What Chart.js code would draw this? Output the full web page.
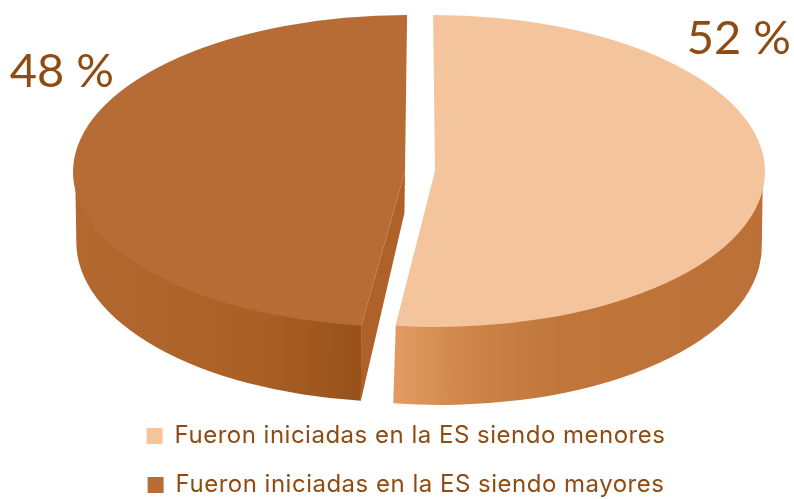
<!DOCTYPE html>
<html>
<head>
<meta charset="utf-8">
<script src="https://cdn.jsdelivr.net/npm/chart.js@4"></script>
<style>
html, body { margin: 0; padding: 0; background: #ffffff; overflow: hidden; }
#wrap { width: 794px; height: 499px; overflow: hidden; }
</style>
</head>
<body>
<div id="wrap"><canvas id="chartPie" width="794" height="507"></canvas></div>
<script>
const categories = ["Fueron iniciadas en la ES siendo menores", "Fueron iniciadas en la ES siendo mayores"];
const values = [52, 48];
const sliceColors = ["#f4c49c", "#b86c35"];

const textColor = "#8f4c12";
const pieY = 171;

// where each slice sits on the page
const sliceX = [435, 405];
const sliceRx = [330, 332];
const sliceShear = [1.9 / 156, -2.1 / 156];
const sliceDrop = [73, 70];
const sliceTilt = [-0.11, 0];

// side wall of the slices, left to right on screen
const wallStops = [
    [[395, "#e19a62"], [470, "#cc8448"], [560, "#c0763a"], [765, "#bb7038"]],
    [[75, "#b2682e"], [250, "#ab6126"], [362, "#98521a"]]
];

const pie3d = {
    id: "pie3d",
    // legend text is spaced a bit wider than the font
    beforeLayout(chart) {
        chart.ctx.letterSpacing = "0.5px";
    },
    beforeDraw(chart) {
        chart.ctx.letterSpacing = "0.5px";
    },
    beforeDatasetDraw(chart) {
        const ctx = chart.ctx;
        chart.getDatasetMeta(0).data.forEach((arc, i) => {
            const R = arc.outerRadius;
            const sx = sliceRx[i] / R;
            const drop = sliceDrop[i], faceDrop = 42, rx2 = R - 2, ry2 = R + 5;
            const tilt = sliceTilt[i];
            const from = Math.max(arc.startAngle, 0);
            const to = Math.min(arc.endAngle, Math.PI);

            ctx.save();
            ctx.translate(sliceX[i], pieY);
            ctx.transform(sx, 0, sliceShear[i], 1, 0, 0);

            const stops = wallStops[i];
            const toLocal = x => (x - sliceX[i]) / sx;
            const x0 = stops[0][0], span = stops[stops.length - 1][0] - x0;
            const grad = ctx.createLinearGradient(toLocal(x0), 0, toLocal(x0 + span), 0);
            stops.forEach(s => grad.addColorStop((s[0] - x0) / span, s[1]));

            // cut face of the left slice shows through the gap
            if (i === 1) {
                const a = arc.startAngle;
                ctx.fillStyle = "#ae6128";
                ctx.beginPath();
                ctx.moveTo(0, 0);
                ctx.lineTo(R * Math.cos(a), R * Math.sin(a));
                ctx.lineTo(rx2 * Math.cos(a), drop + ry2 * Math.sin(a));
                ctx.lineTo(0, faceDrop);
                ctx.closePath();
                ctx.fill();
            }

            // wall starts just under the top face so no seam shows
            ctx.fillStyle = grad;
            ctx.beginPath();
            ctx.arc(0, 0, R - 1, from, to);
            ctx.ellipse(0, drop, rx2, ry2, tilt, to - tilt * 1.15, from - tilt, true);
            ctx.closePath();
            ctx.fill();

            ctx.translate(-arc.x, -arc.y);
            arc.draw(ctx);
            ctx.restore();
        });
        return false;
    },
    afterDraw(chart) {
        const ctx = chart.ctx;
        ctx.save();
        ctx.letterSpacing = "0px";
        ctx.fillStyle = textColor;
        ctx.font = "400 47px Lato";
        ctx.textBaseline = "alphabetic";
        ctx.textAlign = "right";
        ctx.fillText(values[0] + " %", 791, 54);
        ctx.fillText(values[1] + " %", 114, 87);
        ctx.restore();
    }
};

new Chart(document.getElementById("chartPie").getContext("2d"), {
    type: "pie",
    data: {
        labels: categories,
        datasets: [{
            data: values,
            backgroundColor: sliceColors,
            borderWidth: 0
        }]
    },
    options: {
        responsive: false,
        animation: false,
        radius: 156,
        layout: { padding: { left: 18 } },
        plugins: {
            tooltip: { enabled: false },
            legend: {
                display: true,
                position: "bottom",
                labels: {
                    boxWidth: 16,
                    boxHeight: 16,
                    padding: 25,
                    color: textColor,
                    font: { family: "Inter", size: 24 }
                }
            }
        }
    },
    plugins: [pie3d]
});
</script>
</body>
</html>
